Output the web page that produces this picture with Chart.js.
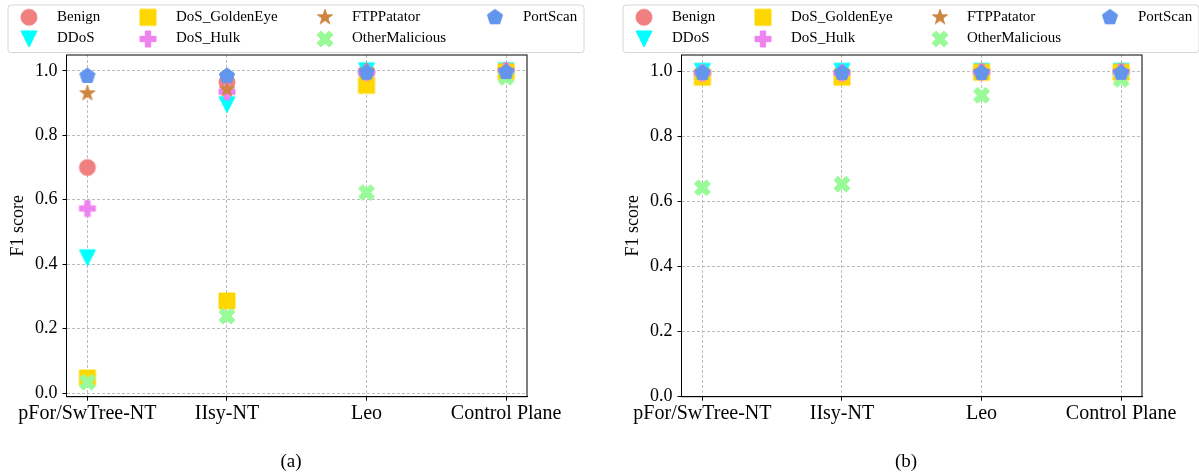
<!DOCTYPE html>
<html><head><meta charset="utf-8">
<script src="https://cdn.jsdelivr.net/npm/chart.js@4.4.1/dist/chart.umd.min.js"></script>
<style>
html,body{margin:0;padding:0;background:#fff;overflow:hidden;width:1199px;height:475px;}
.wrap{position:absolute;top:0;width:600px;height:475px;}
canvas{display:block;}
</style></head><body>
<div class="wrap" style="left:0"><canvas id="ca" width="600" height="475"></canvas></div>
<div class="wrap" style="left:615px"><canvas id="cb" width="600" height="475"></canvas></div>
<script>
// ---- data ----
const categories = ['pFor/SwTree-NT', 'IIsy-NT', 'Leo', 'Control Plane'];
const classNames = ['Benign', 'DDoS', 'DoS_GoldenEye', 'DoS_Hulk', 'FTPPatator', 'OtherMalicious', 'PortScan'];
const yTickValues = [0.0, 0.2, 0.4, 0.6, 0.8, 1.0];

// (a)
const benignA = [0.700, 0.965, 0.995, 1.000];
const ddosA   = [0.420, 0.895, 1.000, 1.000];
const goldenA = [0.047, 0.286, 0.955, 0.997];
const hulkA   = [0.573, 0.935, 0.995, 1.000];
const ftpA    = [0.930, 0.942, 1.000, 1.000];
const otherA  = [0.034, 0.239, 0.622, 0.980];
const portA   = [0.984, 0.984, 0.994, 0.996];

// (b)
const benignB = [0.995, 0.995, 0.998, 1.000];
const ddosB   = [1.000, 1.000, 1.000, 1.000];
const goldenB = [0.982, 0.982, 0.997, 0.997];
const hulkB   = [0.995, 0.995, 0.998, 0.998];
const ftpB    = [0.995, 0.995, 0.998, 0.998];
const otherB  = [0.642, 0.653, 0.926, 0.975];
const portB   = [0.995, 0.995, 0.995, 0.995];

// ---- styles ----
const classColors = ['#F08080', '#00FFFF', '#FFD700', '#EE82EE', '#CD853F', '#98FB98', '#6495ED'];
const classShapes = ['circle', 'triangleDown', 'square', 'plusFilled', 'star', 'xFilled', 'pentagon'];
const SERIF = "'Liberation Serif', 'DejaVu Serif', serif";
const MS = 16;

function makeMarker(shape, color, s) {
  const c = document.createElement('canvas');
  const n = Math.ceil(s + 4);
  c.width = n; c.height = n;
  const g = c.getContext('2d');
  g.translate(n / 2, n / 2);
  g.beginPath();
  const h = s / 2;
  const poly = (pts) => { pts.forEach((p, i) => i ? g.lineTo(p[0], p[1]) : g.moveTo(p[0], p[1])); g.closePath(); };
  if (shape === 'circle') {
    g.arc(0, 0, h, 0, Math.PI * 2);
  } else if (shape === 'square') {
    g.rect(-h, -h, s, s);
  } else if (shape === 'triangleDown') {
    poly([[0, h], [-h, -h], [h, -h]]);
  } else if (shape === 'plusFilled') {
    const p = [[-1,-3],[1,-3],[1,-1],[3,-1],[3,1],[1,1],[1,3],[-1,3],[-1,1],[-3,1],[-3,-1],[-1,-1]];
    poly(p.map(q => [q[0] * s / 6, q[1] * s / 6]));
  } else if (shape === 'xFilled') {
    const p = [[-1,-2],[0,-1],[1,-2],[2,-1],[1,0],[2,1],[1,2],[0,1],[-1,2],[-2,1],[-1,0],[-2,-1]];
    poly(p.map(q => [q[0] * s / 4, q[1] * s / 4]));
  } else if (shape === 'star') {
    const pts = [];
    for (let i = 0; i < 10; i++) {
      const r = i % 2 ? h * 0.381966 : h;
      const a = -Math.PI / 2 + i * Math.PI / 5;
      pts.push([r * Math.cos(a), r * Math.sin(a)]);
    }
    poly(pts);
  } else if (shape === 'pentagon') {
    const pts = [];
    for (let i = 0; i < 5; i++) {
      const a = -Math.PI / 2 + i * 2 * Math.PI / 5;
      pts.push([h * Math.cos(a), h * Math.sin(a)]);
    }
    poly(pts);
  }
  g.fillStyle = color; g.fill();
  g.lineWidth = 1; g.strokeStyle = color; g.lineJoin = 'round'; g.stroke();
  return c;
}
const markerImages = classShapes.map((sh, i) => makeMarker(sh, classColors[i], MS));

const framePlugin = {
  id: 'frame',
  afterDraw(chart, args, opts) {
    const { ctx, chartArea: a } = chart;
    ctx.save();
    ctx.setLineDash([]);
    ctx.strokeStyle = '#000';
    ctx.lineWidth = 1;
    ctx.strokeRect(a.left, a.top, a.right - a.left, a.bottom - a.top);
    // legend box
    const bx = 8, by = 5, bw = 576, bh = 47.5, r = 3;
    ctx.beginPath();
    ctx.moveTo(bx + r, by);
    ctx.arcTo(bx + bw, by, bx + bw, by + bh, r);
    ctx.arcTo(bx + bw, by + bh, bx, by + bh, r);
    ctx.arcTo(bx, by + bh, bx, by, r);
    ctx.arcTo(bx, by, bx + bw, by, r);
    ctx.closePath();
    ctx.fillStyle = 'rgba(255,255,255,0.8)';
    ctx.fill();
    ctx.strokeStyle = '#d6d6d6';
    ctx.stroke();
    const colMarkerX = [29, 148, 325, 495];
    const colTextX = [57, 176, 352, 523];
    const rowY = [17.3, 39];
    ctx.font = '15px ' + SERIF;
    ctx.fillStyle = '#000';
    ctx.textBaseline = 'middle';
    ctx.textAlign = 'left';
    chart.data.datasets.forEach((ds, k) => {
      const col = Math.floor(k / 2), row = k % 2;
      const img = ds.pointStyle;
      ctx.drawImage(img, colMarkerX[col] - img.width / 2, rowY[row] - img.height / 2);
      ctx.fillText(ds.label, colTextX[col], rowY[row] - 0.5);
    });
    // caption
    ctx.font = '19px ' + SERIF;
    ctx.textAlign = 'center';
    ctx.fillText(opts.caption, 291, 462);
    ctx.restore();
  }
};

function buildChart(id, series, yMin, yMax, caption) {
  const datasets = classNames.map((name, k) => ({
    label: name,
    data: categories.map((c, i) => ({ x: i, y: series[k][i] })),
    pointStyle: markerImages[k],
    pointRadius: 8,
    pointHoverRadius: 8,
    showLine: false,
    order: classNames.length - k
  }));
  return new Chart(document.getElementById(id), {
    type: 'scatter',
    data: { datasets },
    plugins: [framePlugin],
    options: {
      responsive: false,
      animation: false,
      devicePixelRatio: 1,
      layout: { padding: { top: 55, left: 0, right: 73, bottom: 38.3 } },
      plugins: {
        legend: { display: false },
        tooltip: { enabled: false },
        frame: { caption }
      },
      scales: {
        x: {
          type: 'linear',
          min: -0.15, max: 3.15,
          afterBuildTicks: (s) => { s.ticks = categories.map((c, i) => ({ value: i })); },
          afterFit: (s) => { s.height = 40; },
          ticks: {
            callback: (v) => categories[v],
            font: { family: SERIF, size: 20 },
            color: '#000',
            padding: 1,
            autoSkip: false,
            maxRotation: 0, minRotation: 0
          },
          grid: { color: '#bdbdbd', lineWidth: 1, tickColor: '#000', tickLength: 4, tickBorderDash: [] },
          border: { display: true, color: '#000', width: 1, dash: [3, 2] }
        },
        y: {
          type: 'linear',
          min: yMin, max: yMax,
          afterBuildTicks: (s) => { s.ticks = yTickValues.map(v => ({ value: v })); },
          afterFit: (s) => { s.width = 66.5; },
          ticks: {
            callback: (v) => v.toFixed(1),
            font: { family: SERIF, size: 18 },
            color: '#000',
            padding: 5
          },
          title: {
            display: true, text: 'F1 score',
            font: { family: SERIF, size: 18 },
            color: '#000',
            padding: { top: 7, bottom: 0 }
          },
          grid: { color: '#bdbdbd', lineWidth: 1, tickColor: '#000', tickLength: 4, tickBorderDash: [] },
          border: { display: true, color: '#000', width: 1, dash: [3, 2] }
        }
      }
    }
  });
}

buildChart('ca', [benignA, ddosA, goldenA, hulkA, ftpA, otherA, portA], -0.011, 1.049, '(a)');
buildChart('cb', [benignB, ddosB, goldenB, hulkB, ftpB, otherB, portB], 0.0, 1.05, '(b)');
</script>
</body></html>
